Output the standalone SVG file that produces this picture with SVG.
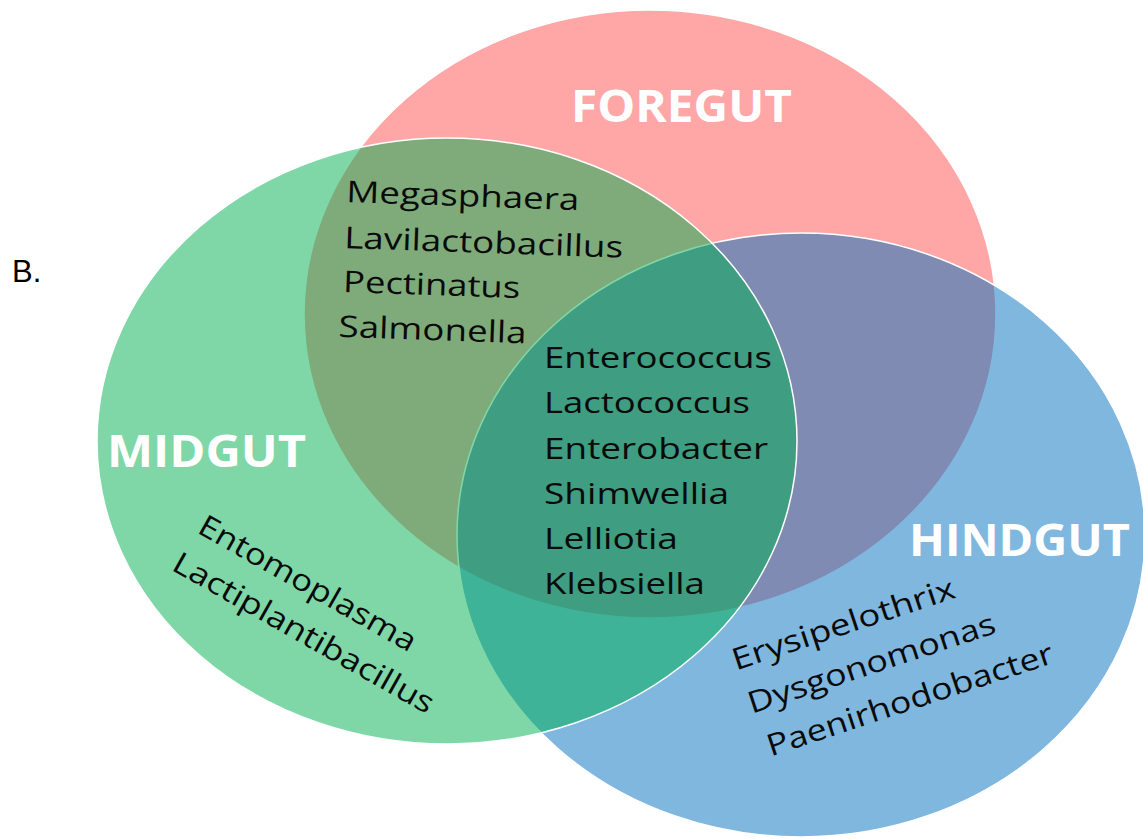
<svg xmlns="http://www.w3.org/2000/svg" width="1143" height="839" viewBox="0 0 1143 839">
<style>
.set{stroke:#ffffff;stroke-width:1.5;fill-opacity:0.5}
.lbl{font-family:"Open Sans","Liberation Sans",sans-serif;font-weight:700;font-size:45px;fill:#ffffff}
.sp{font-family:"Open Sans","Liberation Sans",sans-serif;font-size:30px;fill:#0a0a0a}
.tag{font-family:"Liberation Sans",Arial,sans-serif;font-size:31px;fill:#000000}
</style>
<rect width="1143" height="839" fill="#ffffff"/>
<text class="tag" x="12" y="282">B.</text>
<g id="foregut">
<ellipse class="set" cx="650" cy="314" rx="346" ry="304" fill="#FF5050"/>
<text class="lbl" x="571" y="122" textLength="221" lengthAdjust="spacingAndGlyphs">FOREGUT</text>
</g>
<g id="hindgut">
<ellipse class="set" cx="801" cy="535" rx="344" ry="302" fill="#0070C0"/>
<text class="lbl" x="909" y="556" textLength="221" lengthAdjust="spacingAndGlyphs">HINDGUT</text>
</g>
<g id="midgut">
<ellipse class="set" cx="447" cy="441" rx="350" ry="303" fill="#00B050"/>
<text class="lbl" x="107" y="467" textLength="199" lengthAdjust="spacingAndGlyphs">MIDGUT</text>
</g>
<g id="connectors"></g>
<g id="foregut-midgut" transform="translate(346,202) rotate(2)">
<text class="sp" x="0" y="0" textLength="233" lengthAdjust="spacingAndGlyphs">Megasphaera</text>
<text class="sp" x="-0.5" y="46" textLength="279" lengthAdjust="spacingAndGlyphs">Lavilactobacillus</text>
<text class="sp" x="0" y="90" textLength="177" lengthAdjust="spacingAndGlyphs">Pectinatus</text>
<text class="sp" x="-3" y="135" textLength="188" lengthAdjust="spacingAndGlyphs">Salmonella</text>
</g>
<g id="all-three">
<text class="sp" x="544" y="368" textLength="228" lengthAdjust="spacingAndGlyphs">Enterococcus</text>
<text class="sp" x="544" y="413" textLength="206" lengthAdjust="spacingAndGlyphs">Lactococcus</text>
<text class="sp" x="544" y="459" textLength="224" lengthAdjust="spacingAndGlyphs">Enterobacter</text>
<text class="sp" x="544" y="504" textLength="185" lengthAdjust="spacingAndGlyphs">Shimwellia</text>
<text class="sp" x="544" y="549" textLength="134" lengthAdjust="spacingAndGlyphs">Lelliotia</text>
<text class="sp" x="544" y="594" textLength="161" lengthAdjust="spacingAndGlyphs">Klebsiella</text>
</g>
<g id="midgut-only" transform="translate(196,532) rotate(29.5)">
<text class="sp" x="0" y="0" textLength="245" lengthAdjust="spacingAndGlyphs">Entomoplasma</text>
<text class="sp" x="-4" y="45" textLength="295" lengthAdjust="spacingAndGlyphs">Lactiplantibacillus</text>
</g>
<g id="hindgut-only" transform="translate(736,670.5) rotate(-18.3)">
<text class="sp" x="0" y="0" textLength="233" lengthAdjust="spacingAndGlyphs">Erysipelothrix</text>
<text class="sp" x="1.5" y="46" textLength="259" lengthAdjust="spacingAndGlyphs">Dysgonomonas</text>
<text class="sp" x="6" y="92.5" textLength="300" lengthAdjust="spacingAndGlyphs">Paenirhodobacter</text>
</g>
</svg>
